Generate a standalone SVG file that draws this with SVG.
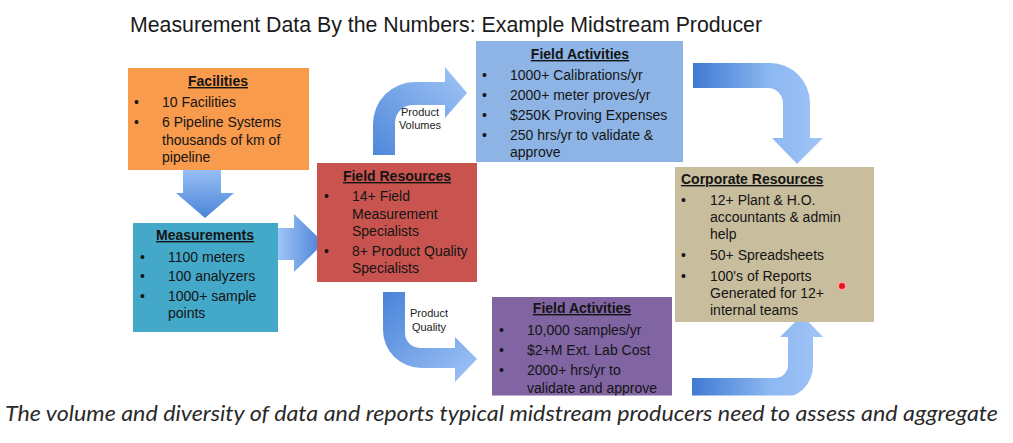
<svg xmlns="http://www.w3.org/2000/svg" width="1013" height="443" viewBox="0 0 1013 443">
<style>
.t{font-family:"Liberation Sans",Arial,sans-serif;font-size:14px;fill:#141414}
.h{font-family:"Liberation Sans",Arial,sans-serif;font-size:14px;font-weight:bold;fill:#141414;text-decoration:underline}
.lbl{font-family:"Liberation Sans",Arial,sans-serif;font-size:11px;fill:#222;text-anchor:middle}
.title{font-family:"Liberation Sans",Arial,sans-serif;font-size:21.3px;fill:#1a1a1a}
.cap{font-family:Lato,"Open Sans",sans-serif;font-size:21px;font-style:italic;fill:#2a2a2a}
</style>
<defs>
<clipPath id="area"><rect x="0" y="0" width="1013" height="395.5"/></clipPath>
<linearGradient id="gDown" x1="0" y1="0" x2="0" y2="1"><stop offset="0" stop-color="#97BFF5"/><stop offset="1" stop-color="#4A84D8"/></linearGradient>
<linearGradient id="gRight" x1="0" y1="0" x2="1" y2="0"><stop offset="0" stop-color="#9FC5F7"/><stop offset="1" stop-color="#4780D6"/></linearGradient>
<linearGradient id="gPV" x1="0" y1="1" x2="1" y2="0"><stop offset="0" stop-color="#4F88DA"/><stop offset="1" stop-color="#A2C6F7"/></linearGradient>
<linearGradient id="gLR" x1="0" y1="0" x2="1" y2="0"><stop offset="0" stop-color="#3F7AD2"/><stop offset="0.6" stop-color="#8DB8F2"/><stop offset="1" stop-color="#A0C4F7"/></linearGradient>
<linearGradient id="gPQ" x1="0" y1="0" x2="1" y2="1"><stop offset="0" stop-color="#4A83D8"/><stop offset="1" stop-color="#A2C6F7"/></linearGradient>
</defs>
<rect width="1013" height="443" fill="#ffffff"/>
<text class="title" x="130" y="32">Measurement Data By the Numbers: Example Midstream Producer</text>
<g clip-path="url(#area)">
<g id="connectors">
<path id="arrow-fac-meas" d="M183,170 L221,170 L221,193 L234,193 L205,218 L176,193 L183,193 Z" fill="url(#gDown)"/>
<path id="arrow-meas-fr" d="M278,228 L294,228 L294,214 L324,243 L294,272 L294,260 L278,260 Z" fill="url(#gRight)"/>
<path id="arrow-volumes" d="M373,155 L373,124 A42,42 0 0 1 415,82 L445,82 L445,67 L467,93 L445,118 L445,105 L413,105 A18,18 0 0 0 395,123 L395,155 Z" fill="url(#gPV)"/>
<path id="arrow-fa-corp" d="M693,63 L770,63 A40,40 0 0 1 810,103 L810,138 L823,138 L797,164 L772,138 L783,138 L783,103 A15,15 0 0 0 768,88 L693,88 Z" fill="url(#gLR)"/>
<path id="arrow-quality" d="M383,292 L405,292 L405,333 A15,15 0 0 0 420,348 L455,348 L455,337 L477,359 L455,382 L455,368 L421,368 A38,38 0 0 1 383,330 Z" fill="url(#gPQ)"/>
<path id="arrow-fa2-corp" d="M692,378 L775,378 A13,13 0 0 0 788,365 L788,337 L780,337 L802,315 L823,337 L813,337 L813,366 A32,32 0 0 1 781,398 L692,398 Z" fill="url(#gLR)"/>
<text class="lbl" x="420" y="116">Product</text>
<text class="lbl" x="420" y="129">Volumes</text>
<text class="lbl" x="429" y="317">Product</text>
<text class="lbl" x="429" y="331">Quality</text>
</g>
<g id="facilities">
<rect x="128" y="68" width="181" height="102" fill="#F99B4C"/>
<text class="h" x="218" y="86" text-anchor="middle">Facilities</text>
<text class="t" x="134" y="107">•</text><text class="t" x="162" y="107">10 Facilities</text>
<text class="t" x="134" y="127">•</text><text class="t" x="162" y="127">6 Pipeline Systems</text>
<text class="t" x="162" y="145">thousands of km of</text>
<text class="t" x="162" y="162">pipeline</text>
</g>
<g id="measurements">
<rect x="133" y="223" width="145" height="109" fill="#44A8C9"/>
<text class="h" x="205" y="240" text-anchor="middle">Measurements</text>
<text class="t" x="140" y="262">•</text><text class="t" x="168" y="262">1100 meters</text>
<text class="t" x="140" y="281">•</text><text class="t" x="168" y="281">100 analyzers</text>
<text class="t" x="140" y="301">•</text><text class="t" x="168" y="301">1000+ sample</text>
<text class="t" x="168" y="318">points</text>
</g>
<g id="field-resources">
<rect x="317" y="163" width="160" height="119" fill="#C9544F"/>
<text class="h" x="397" y="181" text-anchor="middle">Field Resources</text>
<text class="t" x="324" y="201">•</text><text class="t" x="352" y="201">14+ Field</text>
<text class="t" x="352" y="219">Measurement</text>
<text class="t" x="352" y="236">Specialists</text>
<text class="t" x="324" y="256">•</text><text class="t" x="352" y="256">8+ Product Quality</text>
<text class="t" x="352" y="273">Specialists</text>
</g>
<g id="field-activities-volumes">
<rect x="476" y="41" width="207" height="121" fill="#8DB4E4"/>
<text class="h" x="580" y="59" text-anchor="middle">Field Activities</text>
<text class="t" x="482" y="80">•</text><text class="t" x="510" y="80">1000+ Calibrations/yr</text>
<text class="t" x="482" y="100">•</text><text class="t" x="510" y="100">2000+ meter proves/yr</text>
<text class="t" x="482" y="120">•</text><text class="t" x="510" y="120">$250K Proving Expenses</text>
<text class="t" x="482" y="140">•</text><text class="t" x="510" y="140">250 hrs/yr to validate &amp;</text>
<text class="t" x="510" y="157">approve</text>
</g>
<g id="corporate-resources">
<rect x="675" y="167" width="199" height="155" fill="#C8BD9D"/>
<text class="h" x="681" y="184">Corporate Resources</text>
<text class="t" x="681" y="205">•</text><text class="t" x="710" y="205">12+ Plant &amp; H.O.</text>
<text class="t" x="710" y="222">accountants &amp; admin</text>
<text class="t" x="710" y="239">help</text>
<text class="t" x="681" y="260">•</text><text class="t" x="710" y="260">50+ Spreadsheets</text>
<text class="t" x="681" y="281">•</text><text class="t" x="710" y="281">100's of Reports</text>
<text class="t" x="710" y="298">Generated for 12+</text>
<text class="t" x="710" y="315">internal teams</text>
<circle cx="842" cy="286" r="5" fill="#F4A6A6"/>
<circle cx="842" cy="286" r="3" fill="#E3141C"/>
</g>
<g id="field-activities-quality">
<rect x="492" y="297" width="180" height="102" fill="#8165A3"/>
<text class="h" x="582" y="313" text-anchor="middle">Field Activities</text>
<text class="t" x="499" y="335">•</text><text class="t" x="527" y="335">10,000 samples/yr</text>
<text class="t" x="499" y="355">•</text><text class="t" x="527" y="355">$2+M Ext. Lab Cost</text>
<text class="t" x="499" y="375">•</text><text class="t" x="527" y="375">2000+ hrs/yr to</text>
<text class="t" x="527" y="393">validate and approve</text>
</g>
</g>
<text class="cap" x="5" y="421" textLength="993" lengthAdjust="spacingAndGlyphs">The volume and diversity of data and reports typical midstream producers need to assess and aggregate</text>
</svg>
